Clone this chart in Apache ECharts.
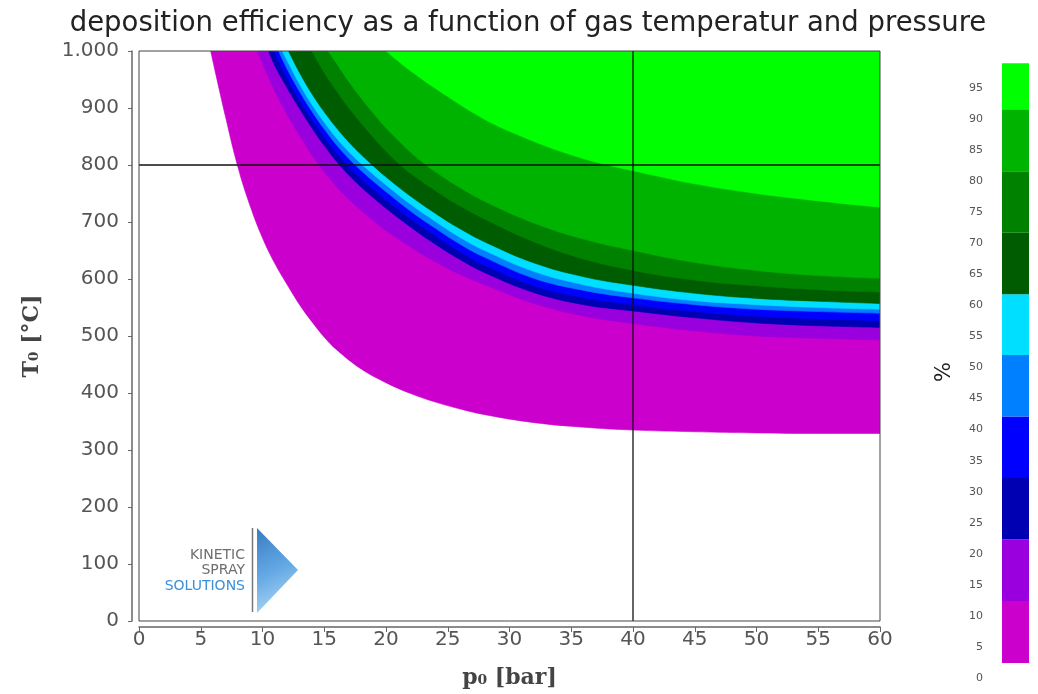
<!DOCTYPE html>
<html><head><meta charset="utf-8">
<script src="https://cdn.jsdelivr.net/npm/echarts@6/dist/echarts.min.js"></script>
<style>html,body{margin:0;padding:0;background:#fff}#c{width:1038px;height:694px}</style>
</head><body><div id="c"></div>
<script>
const titleText = 'deposition efficiency as a function of gas temperatur and pressure';
const xName = 'p\u2080 [bar]';
const yName = 'T\u2080 [\u00b0C]';
const unitLabel = '%';
const pMin = 0, pMax = 60, pStep = 5;
const tMin = 0, tMax = 1000, tStep = 100;
const markP = 40;
const markT = 800;

// contour boundaries [p (bar), T (°C)] for deposition efficiency >= level
const de0  = [[5.8,1000],[7,885],[8,797],[9,728],[10,672],[11,627],[12,590],[13,555],[14,525],[15,498],[16,476],[18,442],[20,418],[22,399],[24,384],[26,372],[28,362],[32,348],[36,340],[40,335],[45,332],[50,330],[55,329],[60,329]];
const de10 = [[9.6,1000],[10,978],[11,930],[12,888],[13,852],[14,818],[15,788],[16,762],[17,740],[18,720],[19,702],[20,685],[22,656],[24,630],[26,608],[28,590],[32,557],[36,535],[40,522],[45,509],[50,500],[55,496],[60,493]];
const de20 = [[10.5,1000],[11,974],[12,935],[13,899],[14,865],[15,834],[16,806],[17,782],[18,761],[19,742],[20,724],[22,691],[24,661],[26,634],[28,611],[32,576],[36,555],[40,544],[45,532],[50,523],[55,518],[60,515]];
const de30 = [[10.9,1000],[12,952],[13,914],[14,880],[15,849],[16,821],[17,797],[18,776],[19,757],[20,739],[22,706],[24,676],[26,648],[28,624],[32,588],[36,567],[40,555],[45,543],[50,535],[55,530],[60,527]];
const de40 = [[11.3,1000],[12,968],[13,929],[14,894],[15,863],[16,835],[17,811],[18,790],[19,771],[20,753],[22,719],[24,689],[26,661],[28,638],[32,601],[36,580],[40,567],[45,555],[50,547],[55,543],[60,540]];
const de50 = [[11.6,1000],[13,942],[14,906],[15,875],[16,847],[17,823],[18,802],[19,783],[20,765],[22,731],[24,701],[26,673],[28,650],[32,613],[36,590],[40,575],[45,562],[50,555],[55,550],[60,547]];
const de60 = [[12.1,1000],[13,962],[14,925],[15,893],[16,865],[17,840],[18,818],[19,798],[20,779],[22,745],[24,715],[26,688],[28,665],[32,628],[36,604],[40,589],[45,575],[50,566],[55,561],[60,557]];
const de70 = [[14,1000],[15,962],[16,930],[17,900],[18,873],[19,848],[20,824],[21,803],[22,785],[24,755],[26,728],[28,705],[32,665],[36,635],[40,615],[45,598],[50,588],[55,581],[60,577]];
const de80 = [[15.3,1000],[16,978],[17,946],[18,917],[19,890],[20,865],[21,843],[22,822],[23,804],[24,788],[26,760],[28,736],[32,698],[36,670],[40,650],[45,629],[50,615],[55,606],[60,601]];
const de90 = [[20,1000],[22,965],[25,920],[28,880],[31,850],[34,825],[37,805],[40,790],[45,767],[50,750],[55,737],[60,726]];

const levels = [0,10,20,30,40,50,60,70,80,90];
const bandColors = ['#cc00cc','#9900dd','#0000b3','#0000ff','#0080ff','#00dfff','#005c00','#008200','#00b300','#00ff00'];
const contours = [de0,de10,de20,de30,de40,de50,de60,de70,de80,de90];

// colorbar block edges on the % scale
const cbEdges = [2.4,12.4,22.3,32.2,42.1,52.0,61.8,71.7,81.6,91.6,99.0];
const cbMin = 0, cbMax = 100, cbStep = 5;

const chart = echarts.init(document.getElementById('c'), null, {renderer:'canvas'});

const series = [];
contours.forEach((d, i) => {
  series.push({
    name: 'DE ' + levels[i] + '%', type: 'line', data: d,
    xAxisIndex: 0, yAxisIndex: 0,
    showSymbol: false, symbol: 'none', smooth: 0.4,
    lineStyle: {width: 0.6, color: bandColors[i]},
    areaStyle: {color: bandColors[i], opacity: 1, origin: 'end'},
    silent: true, z: 2, animation: false
  });
});
series.push({type:'line', data:[[markP,tMin],[markP,tMax]], symbol:'none', lineStyle:{color:'#111', width:1.3}, silent:true, z:5});
series.push({type:'line', data:[[pMin,markT],[pMax,markT]], symbol:'none', lineStyle:{color:'#111', width:1.3}, silent:true, z:5});

series.push({type:'bar', xAxisIndex:1, yAxisIndex:1, stack:'cb', data:[cbEdges[0]], barWidth:'100%', itemStyle:{color:'rgba(0,0,0,0)'}, silent:true});
for (let i = 0; i < bandColors.length; i++) {
  series.push({type:'bar', xAxisIndex:1, yAxisIndex:1, stack:'cb', data:[+(cbEdges[i+1]-cbEdges[i]).toFixed(3)], barWidth:'100%', itemStyle:{color:bandColors[i]}, silent:true});
}

const tickFont = {fontFamily:'DejaVu Sans', fontSize:20, color:'#555'};
const nameFont = {fontFamily:'DejaVu Serif', fontWeight:'bold', fontSize:22, color:'#444'};
const fmtThousands = v => String(v).replace(/(\d)(?=(\d{3})+$)/g, '$1.');

chart.setOption({
  animation: false,
  backgroundColor: '#fff',
  grid: [
    {left:139, top:51, width:741, height:570},
    {left:1002, top:57, width:27, height:621}
  ],
  xAxis: [
    {type:'value', gridIndex:0, min:pMin, max:pMax, interval:pStep, offset:6,
     axisLine:{show:true, onZero:false, lineStyle:{color:'#666', width:1.5}},
     axisTick:{show:true, length:5, lineStyle:{color:'#666'}},
     axisLabel:Object.assign({margin:3}, tickFont),
     splitLine:{show:false},
     name:xName, nameLocation:'middle', nameGap:40, nameTextStyle:nameFont},
    {type:'category', gridIndex:1, data:[unitLabel], show:false}
  ],
  yAxis: [
    {type:'value', gridIndex:0, min:tMin, max:tMax, interval:tStep, offset:7,
     axisLine:{show:true, onZero:false, lineStyle:{color:'#666', width:1.5}},
     axisTick:{show:true, length:4, lineStyle:{color:'#666'}},
     axisLabel:Object.assign({margin:13, formatter: fmtThousands}, tickFont),
     splitLine:{show:false},
     name:yName, nameLocation:'middle', nameGap:89, nameTextStyle:nameFont},
    {type:'value', gridIndex:1, min:cbMin, max:cbMax, interval:cbStep,
     axisLine:{show:false}, axisTick:{show:false}, splitLine:{show:false},
     axisLabel:{fontFamily:'DejaVu Sans', fontSize:11, color:'#555', margin:19, formatter: v => v < cbMax ? String(v) : ''}}
  ],
  series: series
});

const tl = chart.convertToPixel({gridIndex:0}, [pMin, tMax]);
const br = chart.convertToPixel({gridIndex:0}, [pMax, tMin]);
chart.setOption({
  graphic: [
    {type:'text', x:528, y:24, z:10, style:{text:titleText, font:'27.5px "DejaVu Sans"', fill:'#222', align:'center', verticalAlign:'middle'}},
    {type:'rect', z:20, silent:true, shape:{x:tl[0], y:tl[1], width:br[0]-tl[0], height:br[1]-tl[1]}, style:{fill:null, stroke:'#444', lineWidth:1}},
    {type:'text', x:945, y:372, rotation:Math.PI/2, z:10, style:{text:unitLabel, font:'21px "DejaVu Sans"', fill:'#222', align:'center', verticalAlign:'middle'}},
    {type:'group', z:10, children:[
      {type:'text', x:245, y:555, style:{text:'KINETIC', font:'14px "DejaVu Sans"', fill:'#6e6e6e', align:'right', verticalAlign:'middle'}},
      {type:'text', x:245, y:570, style:{text:'SPRAY', font:'14px "DejaVu Sans"', fill:'#6e6e6e', align:'right', verticalAlign:'middle'}},
      {type:'text', x:245, y:586, style:{text:'SOLUTIONS', font:'14px "DejaVu Sans"', fill:'#3b8fd9', align:'right', verticalAlign:'middle'}},
      {type:'line', shape:{x1:252.5, y1:528, x2:252.5, y2:612}, style:{stroke:'#777', lineWidth:1.5}},
      {type:'polygon', shape:{points:[[257,528],[298,570],[257,613]]},
       style:{fill:new echarts.graphic.LinearGradient(0,0,1,1,[{offset:0,color:'#1565b8'},{offset:0.5,color:'#4a9be0'},{offset:1,color:'#b5dbf6'}]), opacity:0.85}}
    ]}
  ]
});
</script>
</body></html>
